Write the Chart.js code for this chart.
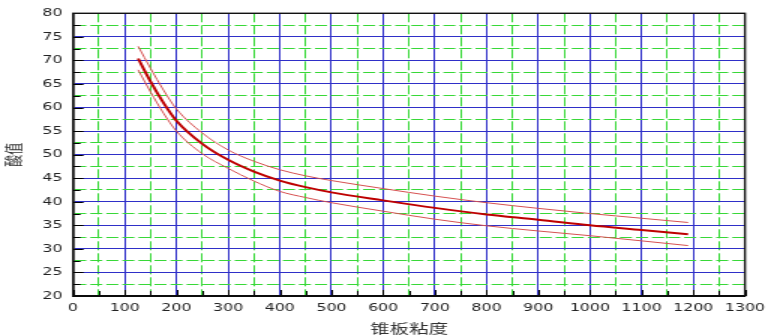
<!DOCTYPE html>
<html>
<head>
<meta charset="utf-8">
<script src="https://cdn.jsdelivr.net/npm/chart.js@4"></script>
<style>
  html, body { margin: 0; padding: 0; background: #fff; overflow: hidden; }
  /* the source picture is stretched sideways, so draw narrow and widen */
  #wrap { position: absolute; left: 0; top: 0; width: 516px; height: 336px;
          transform: scaleX(1.5); transform-origin: 0 0; }
</style>
</head>
<body>
<div id="wrap"><canvas id="viscChart"></canvas></div>
<script>
// data
const viscosity = [126, 150, 175, 200, 250, 300, 350, 400, 450, 500, 600, 700, 800, 900, 1000, 1100, 1190];
const acidMid   = [70.4, 65.5, 61.0, 57.2, 52.3, 48.9, 46.4, 44.5, 43.1, 42.0, 40.3, 38.7, 37.3, 36.2, 35.0, 34.0, 33.1];
const acidUpper = [73.0, 68.3, 63.7, 59.7, 54.6, 51.0, 48.6, 46.8, 45.5, 44.5, 42.8, 41.2, 39.8, 38.6, 37.5, 36.5, 35.6];
const acidLower = [68.0, 63.3, 58.8, 55.0, 50.2, 47.1, 44.4, 42.2, 40.9, 39.8, 38.0, 36.3, 34.9, 33.8, 32.8, 31.7, 30.7];

const xMin = 0, xMax = 1300, xStep = 50, xLabelEvery = 100;
const yMin = 20, yMax = 80, yStep = 2.5, yLabelEvery = 5;
const xTitle = '锥板粘度';
const yTitle = '酸值';

const blue = '#2f2fc8';
const green = '#38d838';

function toPoints(ys) {
    return viscosity.map((v, i) => ({ x: v, y: ys[i] }));
}

// short black ticks pointing into the plot, plus the closed frame
const innerTicks = {
    id: 'innerTicks',
    afterDraw(chart) {
        const { ctx, chartArea: a, scales: { x, y } } = chart;
        ctx.save();
        ctx.strokeStyle = '#000';
        ctx.lineWidth = 1;
        y.ticks.forEach(t => {
            const py = Math.round(y.getPixelForValue(t.value)) + 0.5;
            const len = t.value % yLabelEvery === 0 ? 7 : 5;
            ctx.beginPath();
            ctx.moveTo(a.left, py);
            ctx.lineTo(a.left + len, py);
            ctx.stroke();
        });
        x.ticks.forEach(t => {
            const px = Math.round(x.getPixelForValue(t.value)) + 0.5;
            const len = t.value % xLabelEvery === 0 ? 6 : 5;
            ctx.beginPath();
            ctx.moveTo(px, a.bottom);
            ctx.lineTo(px, a.bottom - len);
            ctx.stroke();
        });
        ctx.lineWidth = 1.4;
        ctx.strokeStyle = '#111';
        ctx.strokeRect(a.left, a.top, a.right - a.left, a.bottom - a.top);
        ctx.restore();
    }
};

const ctx = document.getElementById('viscChart').getContext('2d');
const viscChart = new Chart(ctx, {
    type: 'scatter',
    data: {
        datasets: [{
            data: toPoints(acidUpper),
            showLine: true,
            borderColor: 'rgba(214, 80, 80, 1)',
            borderWidth: 1,
            pointRadius: 0,
            cubicInterpolationMode: 'monotone'
        }, {
            data: toPoints(acidLower),
            showLine: true,
            borderColor: 'rgba(214, 80, 80, 1)',
            borderWidth: 1,
            pointRadius: 0,
            cubicInterpolationMode: 'monotone'
        }, {
            data: toPoints(acidMid),
            showLine: true,
            borderColor: 'rgba(190, 0, 0, 1)',
            borderWidth: 2,
            pointRadius: 0,
            cubicInterpolationMode: 'monotone'
        }]
    },
    plugins: [innerTicks],
    options: {
        responsive: true,
        maintainAspectRatio: false,
        animation: false,
        layout: { padding: { top: 10, right: 17, left: 0, bottom: 0 } },
        plugins: {
            legend: { display: false },
            tooltip: { enabled: false }
        },
        scales: {
            x: {
                type: 'linear',
                min: xMin,
                max: xMax,
                afterFit: s => { s.height = 40; },
                ticks: {
                    stepSize: xStep,
                    autoSkip: false,
                    maxRotation: 0,
                    padding: 6,
                    color: '#222',
                    font: { family: 'DejaVu Sans', size: 10.5 },
                    callback: v => (v % xLabelEvery === 0 ? v : '')
                },
                grid: {
                    drawTicks: false,
                    lineWidth: 1,
                    color: c => (c.tick && c.tick.value % xLabelEvery === 0 ? blue : green)
                },
                border: {
                    color: '#000',
                    width: 2,
                    dash: c => (c.tick && c.tick.value % xLabelEvery !== 0 ? [9, 3] : [])
                },
                title: {
                    display: true,
                    text: xTitle,
                    color: '#333',
                    padding: { top: 0, bottom: 0 },
                    font: { family: 'Noto Sans CJK SC', size: 13 }
                }
            },
            y: {
                min: yMin,
                max: yMax,
                afterFit: s => { s.width = 48.7; },
                ticks: {
                    stepSize: yStep,
                    autoSkip: false,
                    padding: 7,
                    color: '#222',
                    font: { family: 'DejaVu Sans', size: 10.5 },
                    callback: v => (v % yLabelEvery === 0 ? v : '')
                },
                grid: {
                    drawTicks: false,
                    lineWidth: 1,
                    color: c => (c.tick && c.tick.value % yLabelEvery === 0 ? blue : green)
                },
                border: {
                    color: '#000',
                    width: 1.5,
                    dash: c => (c.tick && c.tick.value % yLabelEvery !== 0 ? [8, 2.7] : [])
                },
                title: {
                    display: true,
                    text: yTitle,
                    color: '#333',
                    padding: { top: 2, bottom: 0 },
                    font: { family: 'Noto Sans CJK SC', size: 12 }
                }
            }
        }
    }
});
</script>
</body>
</html>
